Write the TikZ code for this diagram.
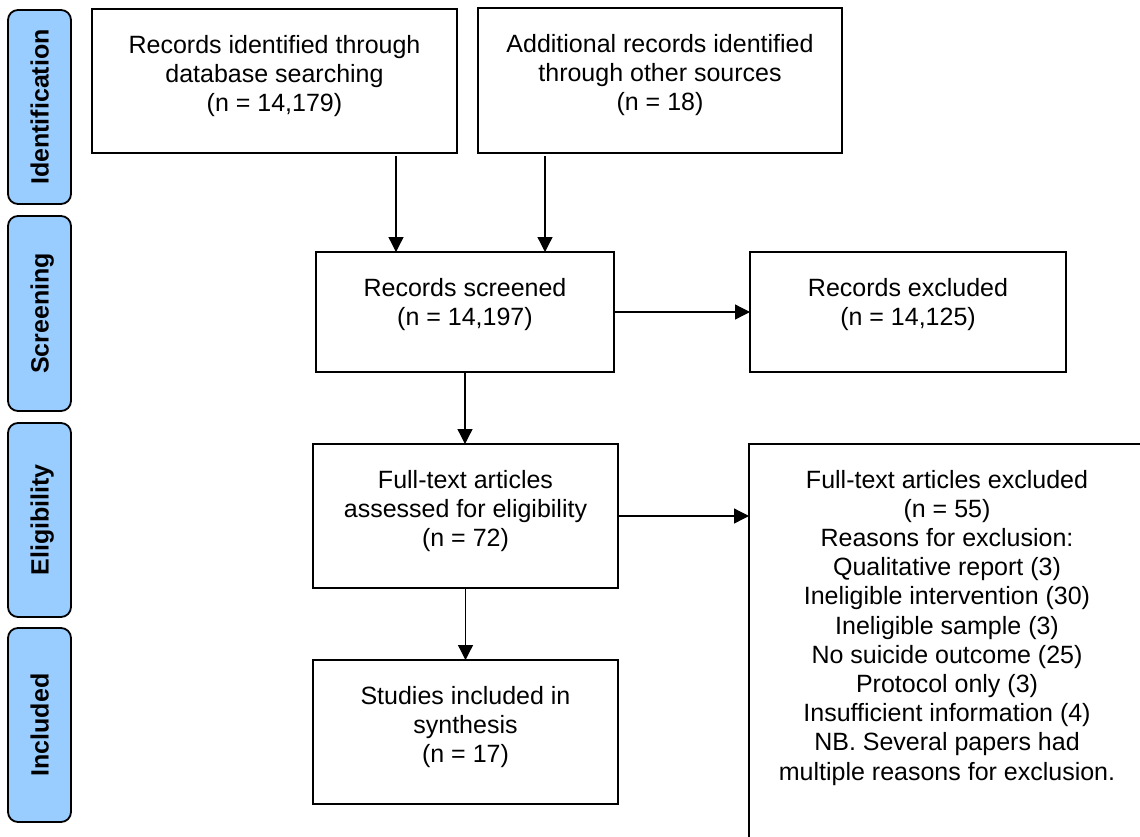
\documentclass[tikz,border=0pt]{standalone}
\usepackage{fontspec}
\setmainfont{Liberation Sans}
\usetikzlibrary{arrows.meta}
\definecolor{phasecol}{RGB}{153,204,255}
\begin{document}
\begin{tikzpicture}[x=1pt,y=-1pt,
  box/.style={draw=black, line width=1.8pt, fill=white, inner sep=0pt, outer sep=0pt, rectangle},
  txt/.style={font=\fontsize{25}{29.2}\selectfont, align=center, inner sep=0pt, outer sep=0pt, anchor=north},
  phasebox/.style={draw=black, line width=1.8pt, fill=phasecol, rounded corners=10pt, inner sep=0pt, outer sep=0pt, minimum width=63pt},
  phasetxt/.style={font=\fontsize{25}{29}\selectfont\bfseries, rotate=90, anchor=base, inner sep=0pt},
  arr/.style={line width=1.3pt, -{Triangle[length=15pt,width=15pt]}}
]
\useasboundingbox (0,0) rectangle (1140,836);
\clip (0,0) rectangle (1140,836);
\fill[white] (0,0) rectangle (1140,836);

% phase labels
\node[phasebox, minimum height=194pt] (p1) at (39.5,107) {};
\node[phasetxt] (p1t) at (48.5,107) {Identification};
\node[phasebox, minimum height=195pt] (p2) at (39.5,313.5) {};
\node[phasetxt] (p2t) at (48.5,313.5) {Screening};
\node[phasebox, minimum height=194pt] (p3) at (39.5,520) {};
\node[phasetxt] (p3t) at (48.5,520) {Eligibility};
\node[phasebox, minimum height=194pt] (p4) at (39.5,725) {};
\node[phasetxt] (p4t) at (48.5,725) {Included};

% boxes
\node[box, minimum width=365pt, minimum height=144pt] (id1) at (274.5,81) {};
\node[txt] (id1t) at ([yshift=-23.6pt]id1.north) {\strut Records identified through\\database searching\\(n = 14,179)};

\node[box, minimum width=364pt, minimum height=145pt] (id2) at (660,80.5) {};
\node[txt] (id2t) at ([yshift=-23.6pt]id2.north) {\strut Additional records identified\\through other sources\\(n = 18)};

\node[box, minimum width=298pt, minimum height=120pt] (scr) at (465,312) {};
\node[txt] (scrt) at ([yshift=-23.6pt]scr.north) {\strut Records screened\\(n = 14,197)};

\node[box, minimum width=316pt, minimum height=120pt] (exc) at (908,312) {};
\node[txt] (exct) at ([yshift=-23.6pt]exc.north) {\strut Records excluded\\(n = 14,125)};

\node[box, minimum width=305pt, minimum height=144pt] (ft) at (465.5,516) {};
\node[txt] (ftt) at ([yshift=-23.6pt]ft.north) {\strut Full-text articles\\assessed for eligibility\\(n = 72)};

\node[box, minimum width=396pt, minimum height=440pt] (ftx) at (947,664) {};
\node[txt] (ftxt) at ([yshift=-23.6pt]ftx.north) {\strut Full-text articles excluded\\(n = 55)\\Reasons for exclusion:\\Qualitative report (3)\\Ineligible intervention (30)\\Ineligible sample (3)\\No suicide outcome (25)\\Protocol only (3)\\Insufficient information (4)\\NB. Several papers had\\multiple reasons for exclusion.};

\node[box, minimum width=305pt, minimum height=144pt] (st) at (465.5,732) {};
\node[txt] (stt) at ([yshift=-23.6pt]st.north) {\strut Studies included in\\synthesis\\(n = 17)};

% connectors
\draw[arr, shorten <=3pt] ([xshift=121.5pt]id1.south) -- ([xshift=121.5pt]id1.south |- scr.north);
\draw[arr, shorten <=3pt] ([xshift=-115pt]id2.south) -- ([xshift=-115pt]id2.south |- scr.north);
\draw[arr] (scr.east) -- (exc.west);
\draw[arr] (scr.south) -- (scr.south |- ft.north);
\draw[arr] (ft.east) -- (ft.east -| ftx.west);
\draw[arr] (ft.south) -- (st.north);
\end{tikzpicture}
\end{document}
